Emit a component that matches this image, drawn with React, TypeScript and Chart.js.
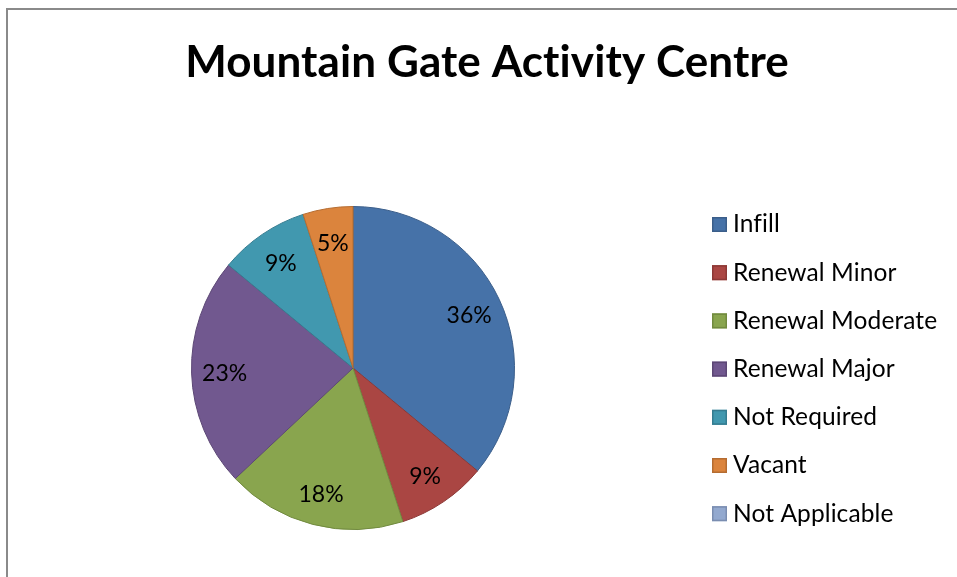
import React, { useEffect, useRef } from "react";
import { Chart, registerables } from "chart.js";

Chart.register(...registerables);

const TITLE = "Mountain Gate Activity Centre";
const categories = [
  "Infill",
  "Renewal Minor",
  "Renewal Moderate",
  "Renewal Major",
  "Not Required",
  "Vacant",
  "Not Applicable",
];
const values = [36, 9, 18, 23, 9, 5, 0];
const fillColors = ["#4672A8", "#AA4643", "#89A54E", "#71588F", "#4198AF", "#DB843D", "#93A9CF"];
const edgeColors = ["#3B5E8A", "#8C3836", "#718A3F", "#5C4775", "#357C90", "#B56C31", "#7A8DB0"];

const FONT = "Lato, 'Open Sans', sans-serif";

const pieLabelsPlugin = {
  id: "pieLabels",
  afterDatasetsDraw(chart: any) {
    const { ctx } = chart;
    const meta = chart.getDatasetMeta(0);
    const total = values.reduce((a, b) => a + b, 0);
    ctx.save();
    ctx.font = `23px ${FONT}`;
    ctx.fillStyle = "#000";
    ctx.textAlign = "center";
    ctx.textBaseline = "middle";
    meta.data.forEach((arc: any, i: number) => {
      const v = values[i];
      if (!v) return;
      const { x, y, startAngle, endAngle, outerRadius } = arc.getProps(
        ["x", "y", "startAngle", "endAngle", "outerRadius"],
        true
      );
      const mid = (startAngle + endAngle) / 2;
      const r = outerRadius * 0.795;
      const pct = Math.round((v / total) * 100) + "%";
      ctx.fillText(pct, x + Math.cos(mid) * r, y + Math.sin(mid) * r + 2);
    });
    ctx.restore();
  },
};

const sideLegendPlugin = {
  id: "sideLegend",
  afterDraw(chart: any) {
    const { ctx } = chart;
    ctx.save();
    try {
      (ctx as any).letterSpacing = "0.1px";
    } catch (e) {}
    ctx.font = `24.5px ${FONT}`;
    ctx.textBaseline = "middle";
    ctx.textAlign = "left";
    categories.forEach((label, i) => {
      const cy = 224.5 + i * 48.2;
      ctx.fillStyle = fillColors[i];
      ctx.fillRect(712, cy - 7.5, 15, 15);
      ctx.strokeStyle = edgeColors[i];
      ctx.lineWidth = 1.5;
      ctx.strokeRect(712.75, cy - 6.75, 13.5, 13.5);
      ctx.fillStyle = "#000";
      ctx.fillText(label, 733, cy);
    });
    ctx.font = `bold 44px ${FONT}`;
    ctx.textAlign = "center";
    ctx.textBaseline = "alphabetic";
    ctx.fillText(TITLE, 487, 77);
    ctx.restore();
  },
};

export default function App() {
  const ref = useRef<HTMLCanvasElement | null>(null);
  useEffect(() => {
    if (!ref.current) return;
    const chart = new Chart(ref.current, {
      type: "pie",
      data: {
        labels: categories,
        datasets: [
          {
            data: values,
            backgroundColor: fillColors,
            borderColor: edgeColors,
            borderWidth: 1,
          },
        ],
      },
      options: {
        animation: false,
        responsive: false,
        layout: { padding: { left: 191, right: 442, top: 206, bottom: 47 } },
        plugins: {
          legend: { display: false },
          title: { display: false },
          tooltip: { enabled: false },
        },
      },
      plugins: [pieLabelsPlugin, sideLegendPlugin],
    });
    return () => chart.destroy();
  }, []);
  return (
    <div style={{ position: "fixed", left: 0, top: 0, width: 957, height: 577, background: "#fff" }}>
      <div
        style={{
          position: "absolute",
          left: 6,
          top: 8,
          width: 960,
          height: 580,
          borderLeft: "2px solid #8a8a8a",
          borderTop: "2px solid #8a8a8a",
        }}
      />
      <canvas ref={ref} width={957} height={577} style={{ position: "absolute", left: 0, top: 0 }} />
    </div>
  );
}
